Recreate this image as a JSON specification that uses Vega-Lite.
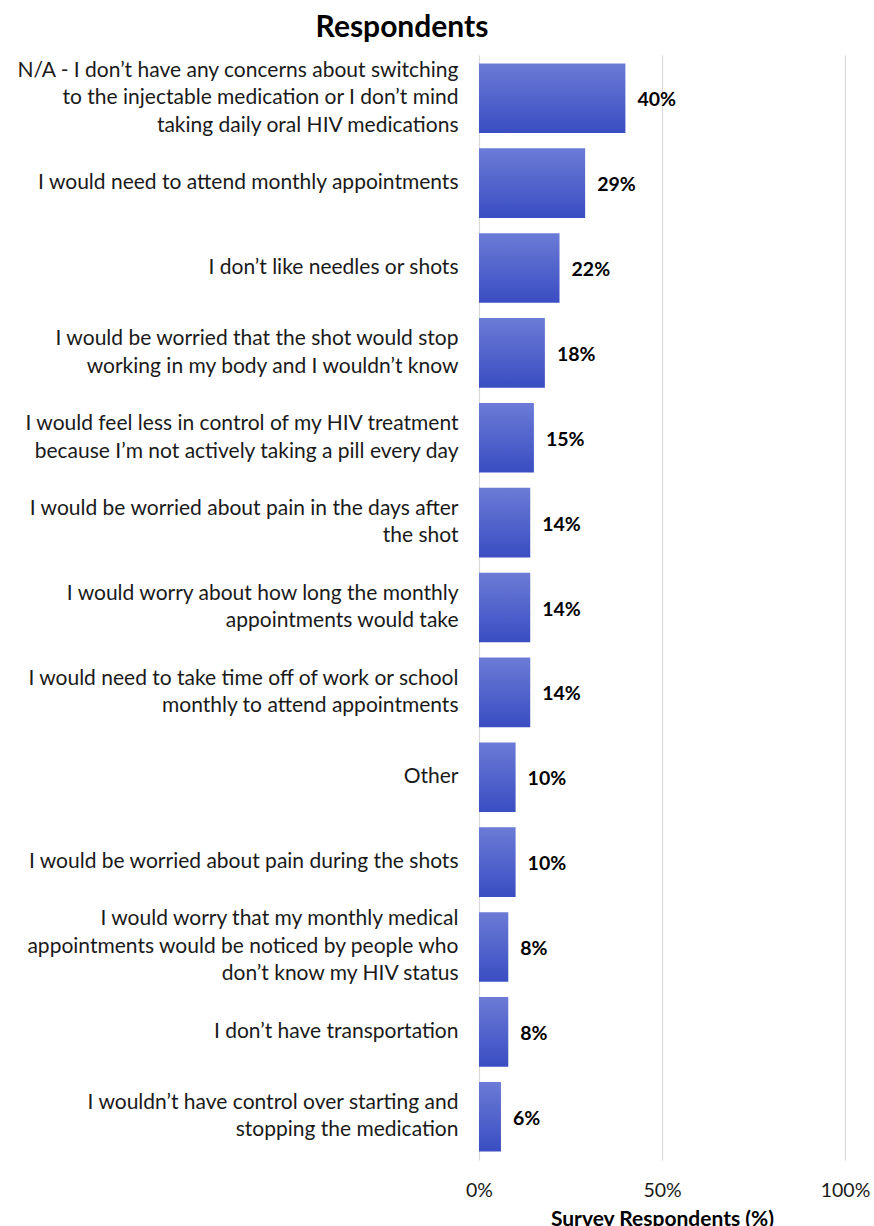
{
  "$schema": "https://vega.github.io/schema/vega-lite/v6.json",
  "autosize": {"type": "none"},
  "padding": {"left": 479, "top": 55, "right": 29, "bottom": 66},
  "width": 366,
  "height": 1105,
  "background": "white",
  "title": {
    "text": "Respondents",
    "font": "Lato",
    "fontSize": 30,
    "fontWeight": "bold",
    "color": "#000000",
    "anchor": "middle",
    "frame": "group",
    "dx": -260,
    "offset": 12
  },
  "config": {
    "view": {"stroke": null},
    "font": "Lato"
  },
  "data": {
    "values": [
      {"label": "N/A - I don’t have any concerns about switching\nto the injectable medication or I don’t mind\ntaking daily oral HIV medications", "pct": 0.40},
      {"label": "I would need to attend monthly appointments", "pct": 0.29},
      {"label": "I don’t like needles or shots", "pct": 0.22},
      {"label": "I would be worried that the shot would stop\nworking in my body and I wouldn’t know", "pct": 0.18},
      {"label": "I would feel less in control of my HIV treatment\nbecause I’m not actively taking a pill every day", "pct": 0.15},
      {"label": "I would be worried about pain in the days after\nthe shot", "pct": 0.14},
      {"label": "I would worry about how long the monthly\nappointments would take", "pct": 0.14},
      {"label": "I would need to take time off of work or school\nmonthly to attend appointments", "pct": 0.14},
      {"label": "Other", "pct": 0.10},
      {"label": "I would be worried about pain during the shots", "pct": 0.10},
      {"label": "I would worry that my monthly medical\nappointments would be noticed by people who\ndon’t know my HIV status", "pct": 0.08},
      {"label": "I don’t have transportation", "pct": 0.08},
      {"label": "I wouldn’t have control over starting and\nstopping the medication", "pct": 0.06}
    ]
  },
  "encoding": {
    "y": {
      "field": "label",
      "type": "nominal",
      "sort": null,
      "scale": {"paddingInner": 0.18, "paddingOuter": 0.1},
      "axis": {
        "title": null,
        "labelExpr": "split(datum.value, '\\n')",
        "labelFont": "Lato",
        "labelFontSize": 21,
        "labelColor": "#1a1a1a",
        "labelLineHeight": 27.5,
        "labelPadding": 21,
        "labelOffset": {
          "condition": [
            {"test": "length(split(datum.value, '\\n')) == 3", "value": -27.5},
            {"test": "length(split(datum.value, '\\n')) == 2", "value": -13.75}
          ],
          "value": 0
        },
        "labelLimit": 0,
        "ticks": false,
        "domain": false,
        "grid": false
      }
    },
    "x": {
      "field": "pct",
      "type": "quantitative",
      "scale": {"domain": [0, 1], "nice": false},
      "axis": {
        "title": "Survey Respondents (%)",
        "titleFont": "Lato",
        "titleFontSize": 21,
        "titleFontWeight": "bold",
        "titleColor": "#000000",
        "titlePadding": 9,
        "values": [0, 0.5, 1],
        "format": ".0%",
        "labelFont": "Lato",
        "labelFontSize": 19.5,
        "labelColor": "#1a1a1a",
        "labelPadding": 21,
        "labelFlush": false,
        "ticks": false,
        "domain": false,
        "grid": true,
        "gridColor": "#d9d9d9",
        "gridWidth": 1.2
      }
    }
  },
  "layer": [
    {
      "mark": {
        "type": "bar",
        "color": {
          "gradient": "linear",
          "x1": 0, "y1": 0, "x2": 0, "y2": 1,
          "stops": [
            {"offset": 0, "color": "#6b7bd6"},
            {"offset": 1, "color": "#3a4dc2"}
          ]
        }
      }
    },
    {
      "mark": {
        "type": "text",
        "align": "left",
        "baseline": "middle",
        "dx": 12,
        "dy": 2,
        "font": "Lato",
        "fontSize": 19.5,
        "fontWeight": "bold",
        "color": "#000000"
      },
      "encoding": {
        "text": {"field": "pct", "type": "quantitative", "format": ".0%"}
      }
    }
  ]
}
